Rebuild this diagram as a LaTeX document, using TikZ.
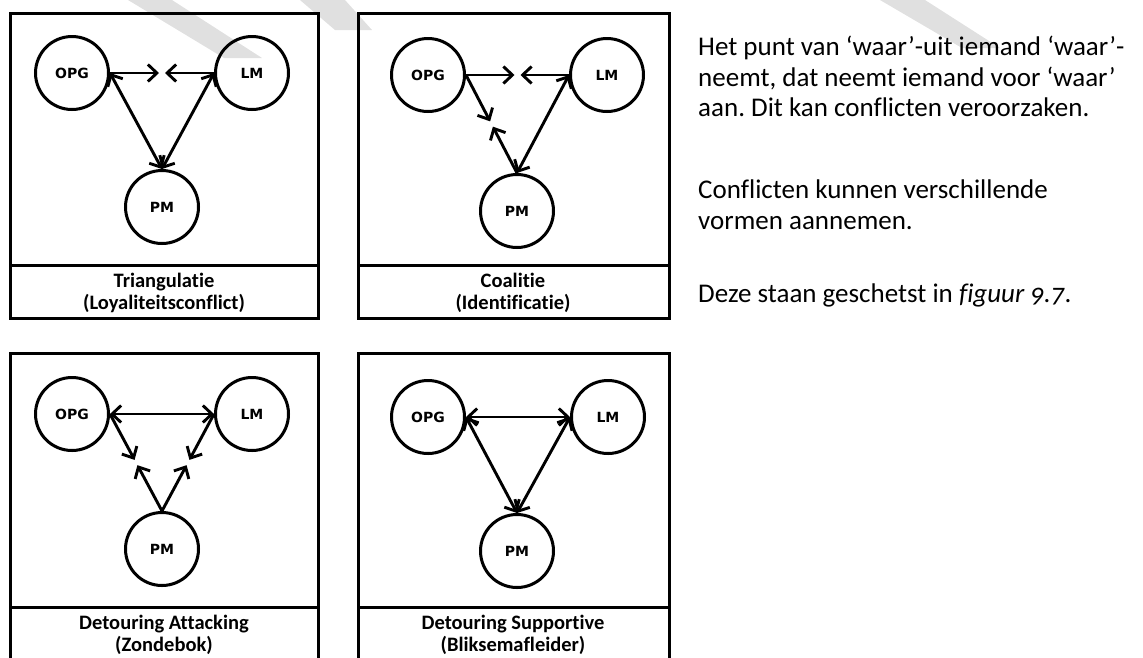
\documentclass[tikz,border=0pt]{standalone}
\usepackage{fontspec}
\setmainfont{Carlito}[Ligatures=NoCommon]
\newfontfamily\labelfont{DejaVu Sans}
\usepackage{tikz}
\usetikzlibrary{arrows.meta}
\usetikzlibrary{calc}
\frenchspacing

\begin{document}
\begin{tikzpicture}[x=1pt, y=-1pt,
  party/.style={draw, circle, line width=3pt, minimum size=73pt, inner sep=0pt,
    font=\labelfont\bfseries\fontsize{14}{14}\selectfont},
  both/.style={line width=2.9pt, {Straight Barb[length=9pt, width=17pt]}-{Straight Barb[length=9pt, width=17pt]}},
  half/.style={line width=2.9pt, -{Straight Barb[length=9pt, width=17pt]}, shorten >=3pt},
  frame/.style={line width=3pt},
  caption/.style={font=\bfseries\fontsize{20.5}{22}\selectfont, align=center},
  prose/.style={anchor=north west, inner sep=0pt, align=left, font=\fontsize{27}{30.5}\selectfont},
  smudge/.style={fill=black!12}]
\useasboundingbox (0,0) rectangle (1143,657);
% faint watermark strokes along the top
\fill[smudge] (128,0) -- (172,0) -- (262,58) -- (224,58) -- cycle;
\fill[smudge] (300,0) -- (345,0) -- (372,30) -- (335,30) -- cycle;
\fill[smudge] (880,0) -- (925,0) -- (1000,48) -- (962,48) -- cycle;

% Triangulatie
\draw[frame] (10,13) rectangle (318,318);
\draw[frame] (10,265) -- (318,265);
\node[party] (opg1) at (72,73) {OPG};
\node[party] (lm1) at (252,73) {LM};
\node[party] (pm1) at (162,207) {PM};
\coordinate (m1) at ($(opg1.east)!0.5!(lm1.west)$);
\draw[half] (opg1.east) -- (m1);
\draw[half] (lm1.west) -- (m1);
\draw[both] (opg1.east) -- (pm1.north);
\draw[both] (lm1.west) -- (pm1.north);
\node[caption] (cap1) at (164,293) {Triangulatie\\(Loyaliteitsconflict)};

% Coalitie
\draw[frame] (358,13) rectangle (669,318);
\draw[frame] (358,265) -- (669,265);
\node[party] (opg2) at (428,75) {OPG};
\node[party] (lm2) at (607,75) {LM};
\node[party] (pm2) at (517,211) {PM};
\coordinate (m2) at ($(opg2.east)!0.5!(lm2.west)$);
\coordinate (m3) at ($(opg2.east)!0.5!(pm2.north)$);
\draw[half] (opg2.east) -- (m2);
\draw[half] (lm2.west) -- (m2);
\draw[half] (opg2.east) -- (m3);
\draw[half] (pm2.north) -- (m3);
\draw[both] (lm2.west) -- (pm2.north);
\node[caption] (cap2) at (513,293) {Coalitie\\(Identificatie)};

% Detouring Attacking
\draw[frame] (10,353) rectangle (318,670);
\draw[frame] (10,607) -- (318,607);
\node[party] (opg3) at (72,414) {OPG};
\node[party] (lm3) at (252,414) {LM};
\node[party] (pm3) at (162,549) {PM};
\coordinate (m4) at ($(opg3.east)!0.5!(pm3.north)$);
\coordinate (m5) at ($(lm3.west)!0.5!(pm3.north)$);
\draw[both] (opg3.east) -- (lm3.west);
\draw[half] (opg3.east) -- (m4);
\draw[half] (pm3.north) -- (m4);
\draw[half] (lm3.west) -- (m5);
\draw[half] (pm3.north) -- (m5);
\node[caption] (cap3) at (164,635) {Detouring Attacking\\(Zondebok)};

% Detouring Supportive
\draw[frame] (358,353) rectangle (669,670);
\draw[frame] (358,607) -- (669,607);
\node[party] (opg4) at (428,417) {OPG};
\node[party] (lm4) at (608,417) {LM};
\node[party] (pm4) at (517,551) {PM};
\draw[both] (opg4.east) -- (lm4.west);
\draw[both] (opg4.east) -- (pm4.north);
\draw[both] (lm4.west) -- (pm4.north);
\node[caption] (cap4) at (513,635) {Detouring Supportive\\(Bliksemafleider)};

% text beside the figure
\node[prose] (para1) at (698,36) {Het punt van ‘waar’-uit iemand ‘waar’-\\neemt, dat neemt iemand voor ‘waar’\\aan. Dit kan conflicten veroorzaken.};
\node[prose] (para2) at (698,180) {Conflicten kunnen verschillende\\vormen aannemen.};
\node[prose] (para3) at (698,284) {Deze staan geschetst in {\itshape\addfontfeatures{Numbers=OldStyle}figuur 9.7}.};
\end{tikzpicture}
\end{document}
